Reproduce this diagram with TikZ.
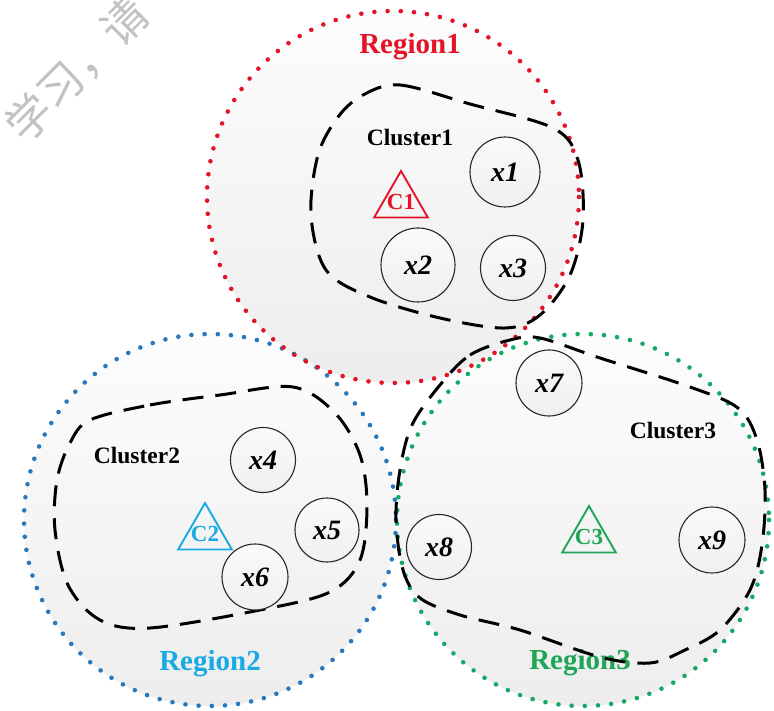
\documentclass[tikz,border=0pt]{standalone}
\usepackage{fontspec}
\setmainfont{Liberation Serif}
\newfontfamily\cjkwm{Noto Sans CJK SC}
\usetikzlibrary{shapes.geometric}
\definecolor{regred}{RGB}{228,20,40}
\definecolor{regblue}{RGB}{40,120,190}
\definecolor{labblue}{RGB}{25,170,230}
\definecolor{reggreen}{RGB}{20,170,100}
\definecolor{labgreen}{RGB}{30,165,85}
\begin{document}
\begin{tikzpicture}[x=1pt,y=-1pt,
  regionfill/.style={top color=black!1, bottom color=black!7},
  regionedge/.style={line width=4.6pt, line cap=round, dash pattern=on 0pt off 13.2pt},
  clusteredge/.style={line width=3pt, dash pattern=on 21pt off 12pt},
  member/.style={circle, draw=black!85, line width=1.1pt, inner sep=0pt,
    top color=black!2, bottom color=black!6,
    font=\fontsize{28}{30}\selectfont\bfseries\itshape},
  centroid/.style={regular polygon, regular polygon sides=3, inner sep=0pt,
    minimum size=62pt, line width=1.9pt},
  ctext/.style={font=\fontsize{23}{24}\selectfont\bfseries},
  regionlabel/.style={font=\fontsize{29}{30}\selectfont\bfseries},
  clusterlabel/.style={font=\fontsize{23.5}{25}\selectfont\bfseries}]
\useasboundingbox (0,0) rectangle (774,711);
\fill[white] (0,0) rectangle (774,711);

% watermark
\node[rotate=45, text=black!24, font=\cjkwm\fontsize{45}{45}\selectfont] (wm) at (77,70) {学习，请};

% regions: fills first, dotted borders afterwards
\coordinate (r1) at (393,197);
\coordinate (r2) at (210,520);
\coordinate (r3) at (583,520);
\shade[regionfill] (r2) circle (186);
\shade[regionfill] (r3) circle (186);
\shade[regionfill] (r1) circle (186);
\draw[regionedge, regblue] (r2) circle (186);
\draw[regionedge, reggreen] (r3) circle (186);
\draw[regionedge, regred] (r1) circle (186);

% region labels
\node[regionlabel, text=regred] (lab1) at (410,47) {Region1};
\node[regionlabel, text=labblue] (lab2) at (210,664) {Region2};
\node[regionlabel, text=labgreen] (lab3) at (580,663) {Region3};

% cluster outlines
\draw[clusteredge] plot[smooth cycle, tension=0.55] coordinates {
  (363,95) (400,85) (470,104) (553,128) (578,160) (583,220) (570,275)
  (540,315) (505,328) (440,318) (370,297) (326,270) (311,215) (318,155) (338,117)};
\draw[clusteredge] plot[smooth cycle, tension=0.55] coordinates {
  (90,420) (150,405) (220,395) (293,387) (335,413) (360,455) (367,505)
  (360,560) (330,592) (260,610) (150,628) (100,620) (68,585) (55,530) (57,480) (70,443)};
\draw[clusteredge] plot[smooth cycle, tension=0.55] coordinates {
  (440,385) (470,355) (510,340) (540,338) (600,358) (690,387) (738,408)
  (757,440) (765,490) (762,545) (750,590) (720,630) (685,650) (650,663)
  (600,657) (520,630) (460,615) (420,598) (403,570) (396,520) (400,470) (412,425)};

% cluster labels
\node[clusterlabel] (cl1) at (410,137) {Cluster1};
\node[clusterlabel] (cl2) at (137,455) {Cluster2};
\node[clusterlabel] (cl3) at (673,430) {Cluster3};

% cluster centres
\node[centroid, draw=regred] (c1) at (401,202) {};
\node[ctext, text=regred] (c1t) at (c1.center) {C1};
\node[centroid, draw=labblue] (c2) at (205,534) {};
\node[ctext, text=labblue] (c2t) at (c2.center) {C2};
\node[centroid, draw=labgreen] (c3) at (589,537) {};
\node[ctext, text=labgreen] (c3t) at (c3.center) {C3};

% members
\node[member, minimum size=70pt] (x1) at (505,172) {x1};
\node[member, minimum size=74pt] (x2) at (418,265) {x2};
\node[member, minimum size=65pt] (x3) at (513,268) {x3};
\node[member, minimum size=65pt] (x4) at (263,460) {x4};
\node[member, minimum size=64pt] (x5) at (327,530) {x5};
\node[member, minimum size=66pt] (x6) at (255,577) {x6};
\node[member, minimum size=66pt] (x7) at (549,383) {x7};
\node[member, minimum size=65pt] (x8) at (439,547) {x8};
\node[member, minimum size=66pt] (x9) at (712,540) {x9};
\end{tikzpicture}
\end{document}
